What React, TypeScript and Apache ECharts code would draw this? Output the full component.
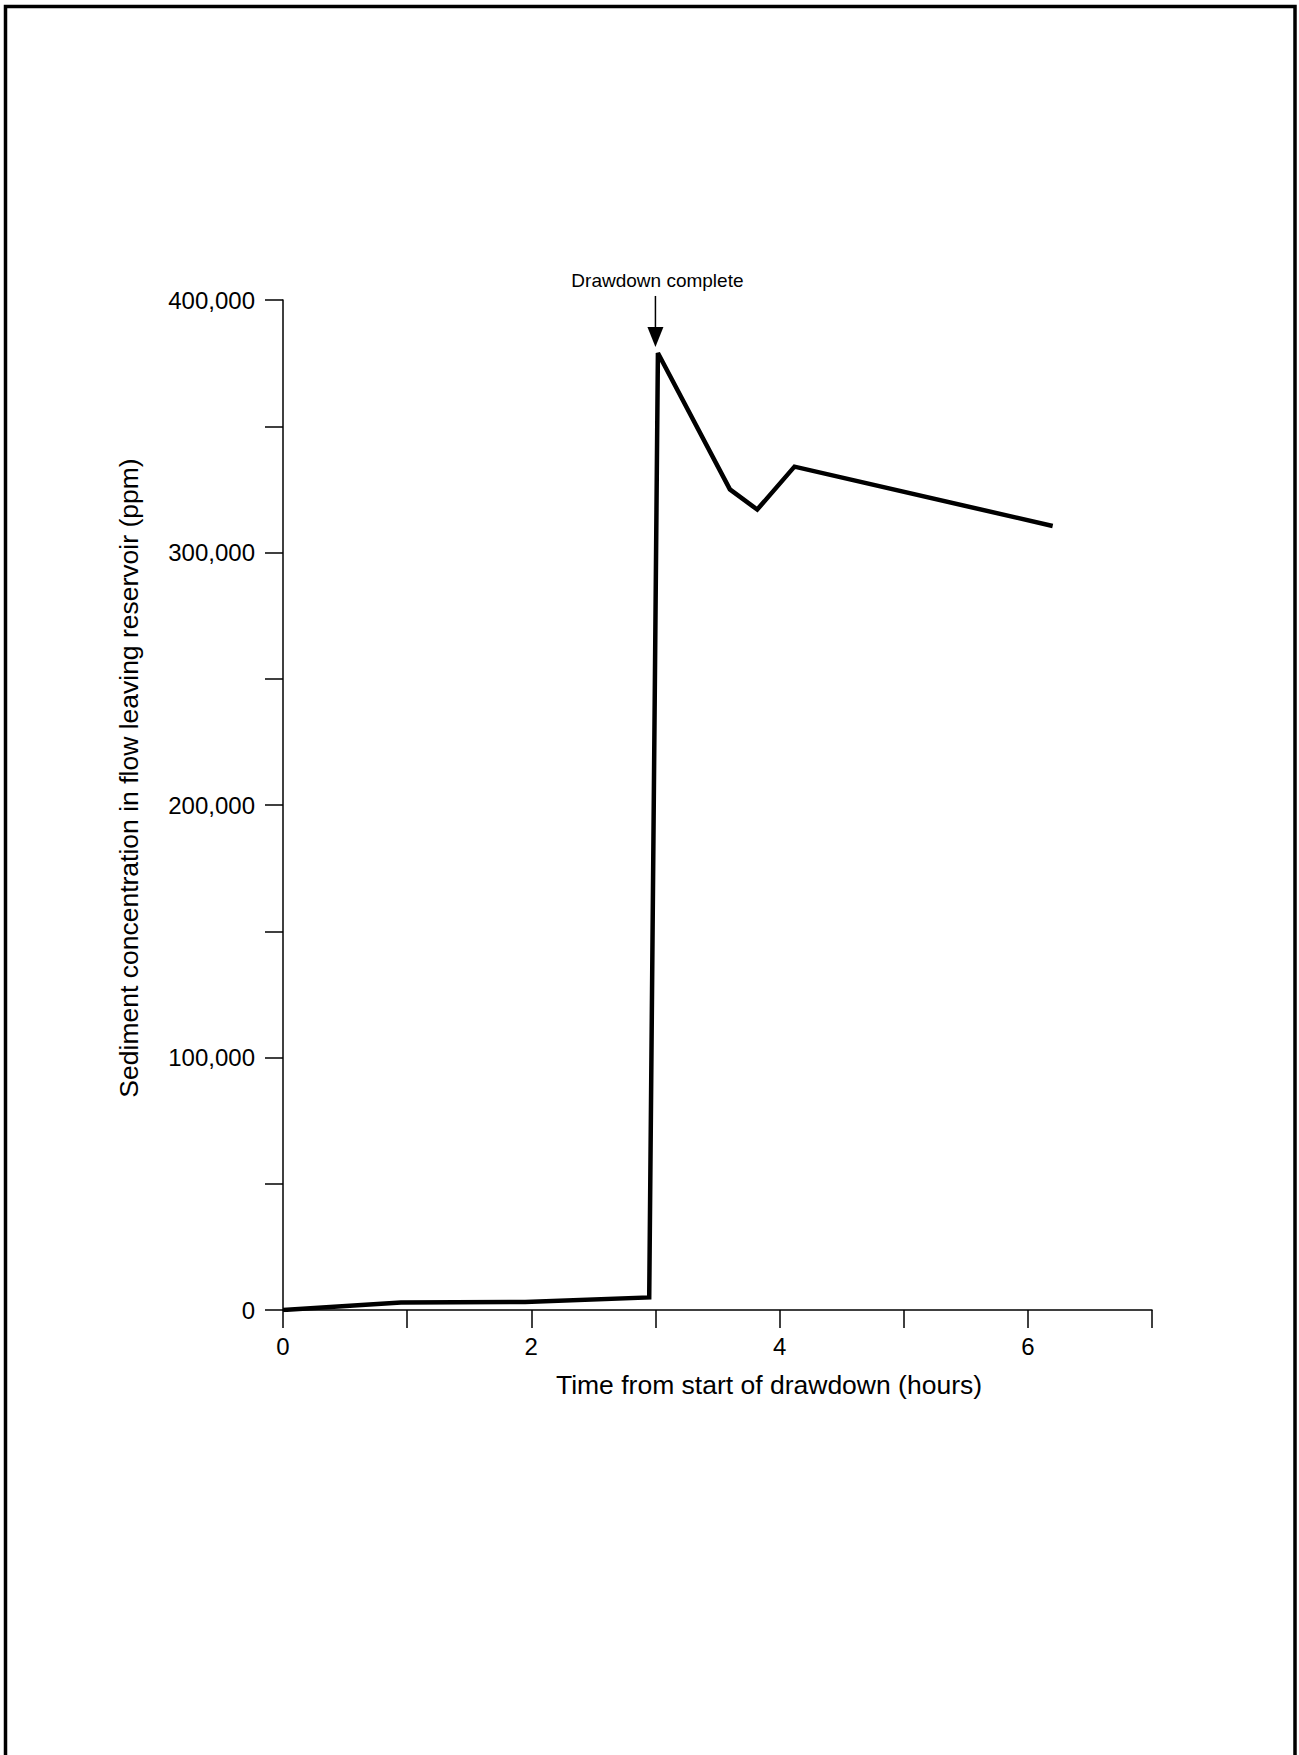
import React, { useEffect, useRef } from 'react';
import * as echarts from 'echarts';

// ---- data ----
const hours = [0, 0.95, 1.95, 2.95, 3.02, 3.6, 3.82, 4.12, 6.2];
const concentration = [0, 3000, 3200, 5000, 379000, 325000, 317000, 334000, 310500];

const xMin = 0;
const xMax = 7;
const xInterval = 1;
const xLabelledTicks = [0, 2, 4, 6];

const yMin = 0;
const yMax = 400000;
const yInterval = 50000;
const yLabelledTicks = [0, 100000, 200000, 300000, 400000];

// annotation arrow ("Drawdown complete")
const arrowHour = 3.0;
const arrowFromValue = 401600;
const arrowTipValue = 381400;

const xTitle = 'Time from start of drawdown (hours)';
const yTitle = 'Sediment concentration in flow leaving reservoir (ppm)';
const annotationText = 'Drawdown complete';

const FONT = "'Liberation Sans', Arial, Helvetica, sans-serif";

export default function App() {
  const ref = useRef<HTMLDivElement>(null);

  useEffect(() => {
    if (!ref.current) return;
    const chart = echarts.init(ref.current, undefined, { renderer: 'svg' });

    const seriesData = hours.map((h, i) => [h, concentration[i]]);

    const baseGraphic: any[] = [
      {
        type: 'rect',
        silent: true,
        shape: { x: 5.5, y: 6.5, width: 1289.5, height: 1800 },
        style: { fill: 'none', stroke: '#000', lineWidth: 3.5 },
      },
      {
        type: 'text',
        silent: true,
        x: 769,
        y: 1385,
        style: {
          text: xTitle,
          fontSize: 26.5,
          fontFamily: FONT,
          fill: '#000',
          align: 'center',
          verticalAlign: 'middle',
        },
      },
      {
        type: 'text',
        silent: true,
        x: 129,
        y: 778,
        rotation: Math.PI / 2,
        style: {
          text: yTitle,
          fontSize: 26.5,
          fontFamily: FONT,
          fill: '#000',
          align: 'center',
          verticalAlign: 'middle',
        },
      },
    ];

    chart.setOption({
      animation: false,
      backgroundColor: '#ffffff',
      textStyle: { fontFamily: FONT, color: '#000' },
      grid: { left: 283, right: 147, top: 300, bottom: 445, containLabel: false },
      xAxis: {
        type: 'value',
        min: xMin,
        max: xMax,
        interval: xInterval,
        axisLine: { show: true, lineStyle: { color: '#000', width: 1.5 } },
        axisTick: { show: true, length: 18, inside: false, lineStyle: { color: '#000', width: 1.5 } },
        axisLabel: {
          show: true,
          margin: 24,
          fontSize: 24,
          fontFamily: FONT,
          color: '#000',
          formatter: (v: number) => (xLabelledTicks.includes(v) ? String(v) : ''),
        },
        splitLine: { show: false },
      },
      yAxis: {
        type: 'value',
        min: yMin,
        max: yMax,
        interval: yInterval,
        axisLine: { show: true, lineStyle: { color: '#000', width: 1.5 } },
        axisTick: { show: true, length: 18, inside: false, lineStyle: { color: '#000', width: 1.5 } },
        axisLabel: {
          show: true,
          margin: 28,
          fontSize: 24,
          fontFamily: FONT,
          color: '#000',
          formatter: (v: number) =>
            yLabelledTicks.includes(v) ? v.toLocaleString('en-US') : '',
        },
        splitLine: { show: false },
      },
      series: [
        {
          type: 'line',
          data: seriesData,
          symbol: 'none',
          showSymbol: false,
          silent: true,
          lineStyle: { color: '#000', width: 4.5, join: 'miter', cap: 'butt', miterLimit: 10 },
        },
      ],
      graphic: baseGraphic,
    });

    // annotation arrow positioned through the chart's own scales
    const p0 = chart.convertToPixel({ gridIndex: 0 }, [arrowHour, arrowFromValue]) as number[];
    const p1 = chart.convertToPixel({ gridIndex: 0 }, [arrowHour, arrowTipValue]) as number[];
    const headH = 20;
    const headW = 16;
    chart.setOption({
      graphic: [
        ...baseGraphic,
        {
          type: 'line',
          silent: true,
          shape: { x1: p0[0], y1: p0[1], x2: p1[0], y2: p1[1] - headH + 2 },
          style: { stroke: '#000', lineWidth: 1.5 },
        },
        {
          type: 'polygon',
          silent: true,
          shape: {
            points: [
              [p1[0] - headW / 2, p1[1] - headH],
              [p1[0] + headW / 2, p1[1] - headH],
              [p1[0], p1[1]],
            ],
          },
          style: { fill: '#000' },
        },
        {
          type: 'text',
          silent: true,
          x: p0[0] + 2,
          y: p0[1] - 6,
          style: {
            text: annotationText,
            fontSize: 19,
            fontFamily: FONT,
            fill: '#000',
            align: 'center',
            verticalAlign: 'bottom',
          },
        },
      ],
    });

    return () => {
      chart.dispose();
    };
  }, []);

  return (
    <div
      ref={ref}
      style={{ position: 'absolute', left: 0, top: 0, width: 1299, height: 1755, background: '#fff' }}
    />
  );
}
